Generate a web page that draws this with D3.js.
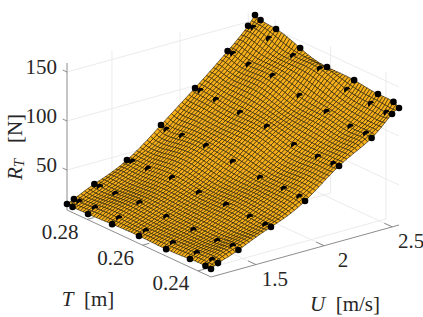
<!DOCTYPE html>
<html><head><meta charset="utf-8">
<script src="https://cdn.jsdelivr.net/npm/d3@7"></script>
<style>html,body{margin:0;padding:0;background:#fff}svg{display:block}</style>
</head><body><svg id="c" width="423" height="317" font-family="'Liberation Serif','Times New Roman',serif"></svg>
<script>
const tNodes=[0.2873,0.2853,0.2797,0.2710,0.2613,0.2515,0.2429,0.2373,0.2353];
const uNodes=[1.17,1.221,1.371,1.61,1.86,2.11,2.349,2.499,2.55];
const resistance=[
[15.3,18.4,28.0,43.3,69.4,97.6,126.0,146.0,155.0],
[14.9,18.0,27.6,43.9,67.0,97.0,125.7,146.5,152.7],
[15.1,19.2,27.8,44.1,68.2,95.3,121.9,142.7,150.8],
[16.2,20.3,29.9,46.2,69.3,93.4,122.0,136.6,142.8],
[16.9,19.9,28.5,43.8,65.8,92.0,114.4,136.2,136.2],
[16.3,20.4,28.0,44.3,62.3,86.3,110.8,127.6,135.7],
[17.6,21.6,28.2,43.5,62.5,85.5,107.0,124.7,132.9],
[17.9,22.0,30.5,42.8,61.8,85.8,107.3,123.0,132.2],
[17.4,21.4,29.0,43.3,60.2,86.3,105.7,124.5,128.6]];
const tTicks=[0.28,0.26,0.24], uTicks=[1.5,2,2.5], rTicks=[50,100,150];
const Tlim=[0.2873,0.2353], Ulim=[1.17,2.55], Rlim=[9.2,159.2];
const meshCells=54;

const X0=67,Y0=210;
const sxT=d3.scaleLinear().domain(Tlim).range([0,144]);
const syT=d3.scaleLinear().domain(Tlim).range([0,67]);
const sxU=d3.scaleLinear().domain(Ulim).range([0,188]);
const syU=d3.scaleLinear().domain(Ulim).range([0,-52]);
const syR=d3.scaleLinear().domain(Rlim).range([0,-147]);
const depT=d3.scaleLinear().domain(Tlim).range([0,172]);
const depU=d3.scaleLinear().domain(Ulim).range([0,-137]);
const depR=d3.scaleLinear().domain(Rlim).range([0,56.6]);
const px=(T,U)=>X0+sxT(T)+sxU(U);
const py=(T,U,R)=>Y0+syT(T)+syU(U)+syR(R);
const dep=(T,U,R)=>depT(T)+depU(U)+depR(R);

// smooth surface through the sample grid (barycentric weights on the sample nodes)
function weights(nodes){
  return nodes.map((n,i)=>nodes.reduce((w,m,k)=>k===i?w:w/(n-m),1));
}
const wT=weights(tNodes),wU=weights(uNodes);
function basis(nodes,w,v){
  const hit=nodes.findIndex(n=>Math.abs(n-v)<1e-9);
  if(hit>=0)return nodes.map((_,i)=>i===hit?1:0);
  const q=nodes.map((n,i)=>w[i]/(v-n)),s=d3.sum(q);
  return q.map(a=>a/s);
}
function heightAt(T,U){
  const a=basis(tNodes,wT,T),b=basis(uNodes,wU,U);
  let z=0;
  resistance.forEach((row,i)=>row.forEach((r,j)=>{z+=a[i]*b[j]*r;}));
  return z;
}
const svg=d3.select("#c");
const line3=(g,a,b)=>g.append("line")
  .attr("x1",px(a[0],a[1])).attr("y1",py(a[0],a[1],a[2]))
  .attr("x2",px(b[0],b[1])).attr("y2",py(b[0],b[1],b[2]));

// grid on floor and back walls
const grid=svg.append("g").attr("stroke","#e6e6e6").attr("stroke-width",0.8);
const [T0,T1]=Tlim,[U0,U1]=Ulim,[R0,R1]=Rlim;
rTicks.forEach(r=>{line3(grid,[T0,U0,r],[T0,U1,r]);line3(grid,[T0,U1,r],[T1,U1,r]);});
uTicks.forEach(u=>{line3(grid,[T0,u,R0],[T0,u,R1]);line3(grid,[T0,u,R0],[T1,u,R0]);});
tTicks.forEach(t=>{line3(grid,[t,U1,R0],[t,U1,R1]);line3(grid,[t,U0,R0],[t,U1,R0]);});

// axes
const axes=svg.append("g").attr("stroke","#808080").attr("stroke-width",0.9);
line3(axes,[T0,U0,R0],[T0,U0,R1]);
line3(axes,[T0,U0,R0],[T1,U0,R0]);
line3(axes,[T1,U0,R0],[T1,U1,R0]);
const dT=Tlim[1]-Tlim[0],dU=Ulim[1]-Ulim[0];
tTicks.forEach(t=>line3(axes,[t,U0,R0],[t,U0+dU*0.035,R0]));
uTicks.forEach(u=>line3(axes,[T1,u,R0],[T1-dT*0.055,u,R0]));
rTicks.forEach(r=>line3(axes,[T0,U0,r],[T0-dT*0.03,U0,r]));

// surface
const tMesh=d3.range(meshCells+1).map(d3.scaleLinear().domain([0,meshCells]).range(Tlim));
const uMesh=d3.range(meshCells+1).map(d3.scaleLinear().domain([0,meshCells]).range(Ulim));
const hgt=tMesh.map(T=>uMesh.map(U=>heightAt(T,U)));
const cells=[];
for(let i=0;i<meshCells;i++)for(let j=0;j<meshCells;j++){
  const c=[[i,j],[i+1,j],[i+1,j+1],[i,j+1]]
    .map(([a,b])=>{const T=tMesh[a],U=uMesh[b],R=hgt[a][b];return {x:px(T,U),y:py(T,U,R),d:dep(T,U,R)};});
  cells.push({pts:c,d:d3.mean(c,p=>p.d)});
}
cells.sort((a,b)=>a.d-b.d);
svg.append("g").selectAll("path").data(cells).join("path")
  .attr("d",c=>d3.line().x(p=>p.x).y(p=>p.y)(c.pts)+"Z")
  .attr("fill","#f8b01a").attr("stroke","#1c1604").attr("stroke-width",0.6).attr("stroke-linejoin","round");

// sample points: boundary points are whole, interior ones are cut by the surface
const dots=svg.append("g").attr("fill","#000");
const rad=3.3;
resistance.forEach((row,i)=>row.forEach((R,j)=>{
  const T=tNodes[i],U=uNodes[j],x=px(T,U),y=py(T,U,R);
  if(i===0||i===8||j===0||j===8){dots.append("circle").attr("cx",x).attr("cy",y).attr("r",rad);return;}
  const dTn=tNodes[i+1]-tNodes[i-1],dUn=uNodes[j+1]-uNodes[j-1];
  const Rt=(resistance[i+1][j]-resistance[i-1][j])/dTn, Ru=(resistance[i][j+1]-resistance[i][j-1])/dUn;
  const ax=sxT(1)-sxT(0),bx=sxU(1)-sxU(0);
  const ay=(syT(1)-syT(0))+(syR(1)-syR(0))*Rt,by=(syU(1)-syU(0))+(syR(1)-syR(0))*Ru;
  const da=(depT(1)-depT(0))+(depR(1)-depR(0))*Rt,db=(depU(1)-depU(0))+(depR(1)-depR(0))*Ru;
  const det=ax*by-bx*ay;
  const gx=(da*by-db*ay)/det,gy=(-da*bx+db*ax)/det;
  const a=Math.atan2(-gx,gy);
  dots.append("path").attr("transform",`translate(${x},${y})`)
    .attr("d",d3.arc()({innerRadius:0,outerRadius:rad,startAngle:a-Math.PI/2-0.3,endAngle:a+Math.PI/2+0.3}));
}));

// tick labels
const fs=21;
const label=(s,x,y,anchor)=>svg.append("text").attr("fill","#262626").attr("x",x).attr("y",y).attr("text-anchor",anchor).attr("dominant-baseline","central").attr("font-size",fs).text(s);
rTicks.forEach(r=>label(String(r),57,py(T0,U0,r)-5,"end"));
tTicks.forEach(t=>label(t.toFixed(2),px(t,U0)-27,py(t,U0,R0)+12.5,"middle"));
uTicks.forEach(u=>label(String(u),px(T1,u)+19,py(T1,u,R0)+14,"middle"));

// axis titles
function title(x,y,italic,rest,rot,sub){
  const t=svg.append("text").attr("fill","#262626").attr("font-size",fs).attr("text-anchor","middle")
    .attr("transform",`translate(${x},${y}) rotate(${rot||0})`).attr("dominant-baseline","central");
  t.append("tspan").attr("font-style","italic").text(italic);
  if(sub)t.append("tspan").attr("font-style","italic").attr("font-size",15).attr("dy",4).text(sub);
  t.append("tspan").attr("dy",sub?-4:0).text((sub?"\u00a0\u00a0\u00a0":"\u00a0\u00a0")+rest);
}
title(88,299,"T","[m]");
title(345,304,"U","[m/s]");
title(15,147,"R","[N]",-90,"T");
</script></body></html>
